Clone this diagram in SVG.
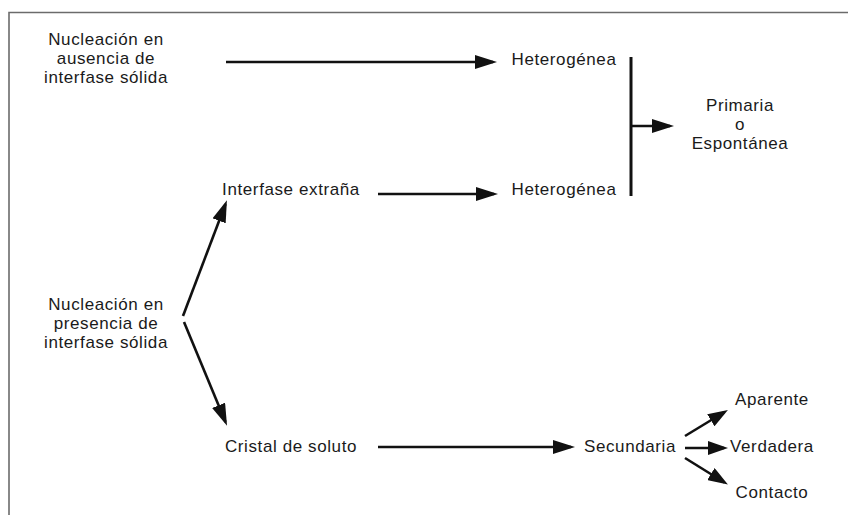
<svg xmlns="http://www.w3.org/2000/svg" width="848" height="515" viewBox="0 0 848 515">
<style>
text{font-family:"Liberation Sans",Arial,sans-serif;font-size:17px;letter-spacing:0.6px;fill:#1a1a1a;text-anchor:middle}
.c{stroke:#111;stroke-width:2.6;fill:none}
.big{marker-end:url(#ah)}
.sm{marker-end:url(#as)}
</style>
<defs>
<marker id="ah" viewBox="0 0 22 14" markerWidth="22" markerHeight="14" refX="18" refY="7" orient="auto" markerUnits="userSpaceOnUse"><path d="M0,0 L22,7 L0,14 Z" fill="#111"/></marker>
<marker id="as" viewBox="0 0 20 14" markerWidth="20" markerHeight="14" refX="16" refY="7" orient="auto" markerUnits="userSpaceOnUse"><path d="M0,0 L20,7 L0,14 Z" fill="#111"/></marker>
</defs>
<rect width="848" height="515" fill="#fff"/>
<path d="M9,515 L9,12.5 L848,12.5" stroke="#6b6b6b" stroke-width="1.6" fill="none"/>
<g id="n-ausencia"><text x="106" y="45">Nucleación en</text><text x="106" y="64">ausencia de</text><text x="106" y="83">interfase sólida</text></g>
<g id="n-het1"><text x="564" y="65">Heterogénea</text></g>
<g id="n-het2"><text x="564" y="195">Heterogénea</text></g>
<g id="n-primaria"><text x="740" y="111">Primaria</text><text x="740" y="130">o</text><text x="740" y="149">Espontánea</text></g>
<g id="n-interfase"><text x="291" y="195">Interfase extraña</text></g>
<g id="n-presencia"><text x="106" y="310">Nucleación en</text><text x="106" y="329">presencia de</text><text x="106" y="348">interfase sólida</text></g>
<g id="n-cristal"><text x="291" y="452">Cristal de soluto</text></g>
<g id="n-secundaria"><text x="630" y="452">Secundaria</text></g>
<g id="n-aparente"><text x="772" y="405">Aparente</text></g>
<g id="n-verdadera"><text x="772" y="452">Verdadera</text></g>
<g id="n-contacto"><text x="772" y="498">Contacto</text></g>
<g id="connectors">
<line class="c big" x1="226" y1="62" x2="493" y2="62"/>
<line class="c big" x1="378" y1="194" x2="494" y2="194"/>
<line x1="631" y1="57" x2="631" y2="196" stroke="#111" stroke-width="3"/>
<line class="c big" x1="631" y1="126" x2="670" y2="126"/>
<line class="c big" x1="183" y1="316" x2="225.5" y2="204"/>
<line class="c big" x1="184" y1="322" x2="225.5" y2="422"/>
<line class="c big" x1="378" y1="447" x2="571" y2="447"/>
<line class="c sm" x1="685" y1="436" x2="724.5" y2="412"/>
<line class="c sm" x1="685" y1="448" x2="724" y2="448"/>
<line class="c sm" x1="685" y1="458" x2="724.5" y2="482.5"/>
</g>
</svg>
